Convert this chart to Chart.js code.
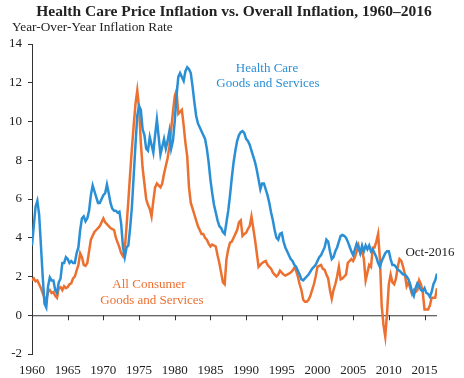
<!DOCTYPE html>
<html>
<head>
<meta charset="utf-8">
<script src="https://cdn.jsdelivr.net/npm/chart.js@4"></script>
<style>
  html, body { margin: 0; padding: 0; background: #fff; }
  #wrap { width: 464px; height: 378px; }
</style>
</head>
<body>
<div id="wrap"><canvas id="inflChart" width="464" height="378"></canvas></div>
<script>
// Quarterly readings, first value = 1960 Q1, last = 2016 Q4 (Oct-2016)
const startYear = 1960;
const xTickYears = [1960, 1965, 1970, 1975, 1980, 1985, 1990, 1995, 2000, 2005, 2010, 2015];
const yTickValues = [-2, 0, 2, 4, 6, 8, 10, 12, 14];

const healthCare = [
  3.6, 4.6, 5.6, 5.9,   5.2, 3.6, 2.0, 0.6,   0.4, 1.5, 1.95, 1.8,  1.8, 1.3, 1.15, 1.7,
  1.9, 2.7, 2.7, 3.0,   2.9, 2.7, 2.8, 2.7,   2.7, 3.2, 3.5, 4.4,   5.0, 5.1, 4.85, 5.0,
  5.4, 6.2, 6.7, 6.4,   6.1, 5.8, 5.8, 6.0,   6.2, 6.3, 6.75, 6.3,  5.8, 5.5, 5.4, 5.4,
  5.3, 5.35, 4.7, 3.5,  3.0, 3.5, 3.6, 4.5,   5.6, 7.2, 8.8, 10.3,  10.8, 10.6, 9.6, 9.3,
  8.6, 8.5, 9.2, 8.8,   8.4, 9.3, 10.1, 9.2,  8.3, 8.7, 9.1, 8.6,   9.0, 9.5, 8.6, 9.0,
  10.0, 11.3, 12.3, 12.5, 12.3, 12.1, 12.6, 12.8, 12.7, 12.5, 11.8, 11.0, 10.3, 9.9, 9.7, 9.5,
  9.3, 9.1, 8.6, 7.9,   7.0, 6.3, 5.7, 5.3,   4.9, 4.6, 4.5, 4.3,   4.2, 4.8, 5.4, 6.2,
  7.1, 7.9, 8.5, 9.0,   9.3, 9.45, 9.5, 9.4,  9.1, 9.0, 8.8, 8.5,   8.2, 7.9, 7.5, 7.0,
  6.5, 6.8, 6.8, 6.5,   6.2, 5.8, 5.3, 4.9,   4.4, 4.0, 3.9, 4.2,   4.25, 3.8, 3.5, 3.3,
  3.1, 2.9, 2.8, 2.6,   2.5, 2.3, 2.1, 1.85,  1.8, 1.9, 2.0, 2.1,   2.25, 2.4, 2.5, 2.6,
  2.8, 3.0, 3.1, 3.3,   3.5, 3.9, 3.8, 3.3,   2.9, 3.0, 3.3, 3.5,   3.8, 4.1, 4.15, 4.1,
  4.0, 3.8, 3.55, 3.3,  3.1, 3.4, 3.7, 3.5,   3.2, 3.6, 3.3, 3.6,   3.4, 3.6, 3.3, 3.4,
  3.2, 3.0, 2.7, 2.5,   2.8, 3.0, 3.2, 3.3,   3.3, 2.9, 2.6, 2.6,   2.5, 2.35, 2.3, 2.2,
  2.1, 2.1, 2.0, 1.85,  1.6, 1.2, 1.0, 1.4,   1.65, 1.5, 1.3, 1.25, 1.4, 1.15, 1.1, 0.95,
  1.2, 1.6, 1.8, 2.15
];

const allConsumer = [
  1.8, 1.9, 1.75, 1.8,  1.6, 1.4, 1.15, 0.9,  0.8, 1.2, 1.3, 1.15,  1.2, 1.0, 0.9, 1.4,
  1.45, 1.3, 1.5, 1.4,  1.45, 1.6, 1.65, 1.9, 2.0, 2.3, 2.6, 3.2,   3.0, 2.6, 2.55, 2.7,
  3.3, 3.9, 4.1, 4.3,   4.4, 4.5, 4.6, 4.8,   5.0, 4.8, 4.7, 4.6,   4.5, 4.45, 4.4, 4.0,
  3.75, 3.5, 3.2, 3.05, 3.4, 4.6, 5.9, 7.3,   8.6, 9.8, 10.9, 11.6, 10.7, 8.9, 7.6, 6.8,
  6.0, 5.7, 5.5, 5.1,   5.9, 6.6, 6.8, 6.7,   6.6, 6.8, 7.3, 7.7,   8.1, 8.7, 9.6, 10.5,
  11.3, 11.6, 10.4, 10.5, 10.6, 9.8, 8.9, 8.2, 6.6, 5.8, 5.5, 5.2,  4.9, 4.6, 4.4, 4.2,
  4.2, 4.0, 3.9, 3.7,   3.55, 3.65, 3.6, 3.55, 3.1, 2.7, 2.2, 1.7,  1.6, 2.9, 3.4, 3.75,
  3.8, 4.0, 4.2, 4.4,   4.8, 4.9, 4.1, 4.2,   4.25, 4.45, 4.6, 5.1, 4.5, 3.9, 3.2, 2.5,
  2.6, 2.7, 2.75, 2.8,  2.6, 2.5, 2.4, 2.2,   2.1, 2.0, 2.1, 2.3,   2.2, 2.1, 2.05, 2.1,
  2.15, 2.2, 2.3, 2.45, 2.3, 2.0, 1.6, 1.3,   0.8, 0.7, 0.7, 0.8,   1.0, 1.3, 1.6, 2.0,
  2.5, 2.55, 2.6, 2.4,  2.35, 2.1, 1.9, 1.3,  0.85, 1.3, 1.6, 2.0,  2.5, 1.85, 1.9, 2.0,
  2.1, 2.7, 2.8, 2.9,   2.8, 3.0, 3.3, 3.6,   3.2, 3.3, 2.9, 1.8,   2.2, 2.6, 2.5, 3.5,
  3.5, 3.8, 4.2, 2.9,   0.5, -0.5, -1.1, 0.1, 1.6, 2.1, 1.7, 1.6,   1.9, 2.5, 2.9, 2.8,
  2.5, 2.1, 1.5, 1.7,   1.4, 1.1, 1.3, 1.2,   1.3, 1.8, 1.6, 1.2,   0.3, 0.3, 0.3, 0.5,
  0.9, 0.9, 0.9, 1.4
];

const blue = "#2b8fd5";
const orange = "#ec7030";
const ink = "#222222";
const serif = "'Liberation Serif', 'Times New Roman', serif";

const toPoints = arr => arr.map((v, i) => ({ x: startYear + i / 4, y: v }));

// texte si linia de zero
const decorPlugin = {
    id: "decor",
    beforeDatasetsDraw(chart) {
        const { ctx, scales: { x, y } } = chart;
        const y0 = y.getPixelForValue(0);
        ctx.save();
        ctx.strokeStyle = "#333";
        ctx.lineWidth = 1;
        ctx.beginPath();
        ctx.moveTo(x.left, y0 + 0.5);
        ctx.lineTo(x.right, y0 + 0.5);
        xTickYears.forEach(yr => {
            if (yr === startYear) return;
            const px = Math.round(x.getPixelForValue(yr)) + 0.5;
            ctx.moveTo(px, y0);
            ctx.lineTo(px, y0 + 5);
        });
        ctx.stroke();
        ctx.restore();
    },
    afterDraw(chart) {
        const { ctx } = chart;
        ctx.save();
        ctx.textBaseline = "alphabetic";
        ctx.textAlign = "center";
        ctx.fillStyle = ink;
        ctx.font = "bold 15.5px " + serif;
        ctx.fillText("Health Care Price Inflation vs. Overall Inflation, 1960\u20132016", 234, 16);

        ctx.textAlign = "left";
        ctx.font = "13.3px " + serif;
        ctx.fillText("Year-Over-Year Inflation Rate", 12, 31);

        ctx.font = "13px " + serif;
        ctx.textAlign = "center";
        ctx.fillStyle = blue;
        ctx.fillText("Health Care", 267, 72);
        ctx.fillText("Goods and Services", 268, 87);

        ctx.fillStyle = orange;
        ctx.fillText("All Consumer", 149, 288);
        ctx.fillText("Goods and Services", 152, 304);

        ctx.fillStyle = ink;
        ctx.fillText("Oct-2016", 430, 256);
        ctx.restore();
    }
};

const chart = new Chart(document.getElementById("inflChart"), {
    type: "line",
    data: {
        datasets: [
            {
                label: "Health Care Goods and Services",
                data: toPoints(healthCare),
                borderColor: blue,
                borderWidth: 2.5,
                pointRadius: 0,
                tension: 0
            },
            {
                label: "All Consumer Goods and Services",
                data: toPoints(allConsumer),
                borderColor: orange,
                borderWidth: 2.5,
                pointRadius: 0,
                tension: 0
            }
        ]
    },
    options: {
        responsive: false,
        animation: false,
        events: [],
        layout: { padding: { left: 0, top: 44, right: 27, bottom: 0 } },
        plugins: {
            legend: { display: false },
            title: { display: false },
            tooltip: { enabled: false }
        },
        scales: {
            x: {
                type: "linear",
                min: 1960,
                max: 2016.75,
                afterBuildTicks: s => { s.ticks = xTickYears.map(v => ({ value: v })); },
                afterFit: s => { s.height = 24; },
                grid: { display: false, drawTicks: false },
                border: { display: false },
                ticks: {
                    padding: 9,
                    maxRotation: 0,
                    color: ink,
                    font: { family: serif, size: 13 },
                    callback: v => String(v)
                }
            },
            y: {
                min: -2,
                max: 14,
                afterBuildTicks: s => { s.ticks = yTickValues.map(v => ({ value: v })); },
                afterFit: s => { s.width = 32; },
                grid: { drawOnChartArea: false, drawTicks: true, tickLength: 4, color: "#333" },
                border: { display: true, color: "#333", width: 1 },
                ticks: {
                    padding: 6,
                    color: ink,
                    font: { family: serif, size: 13 }
                }
            }
        }
    },
    plugins: [decorPlugin]
});
</script>
</body>
</html>
